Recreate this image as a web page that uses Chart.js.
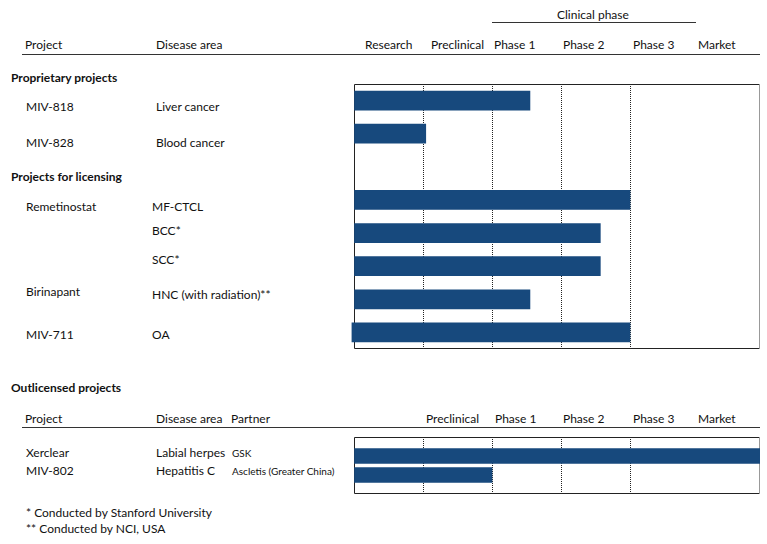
<!DOCTYPE html>
<html>
<head>
<meta charset="utf-8">
<script src="https://cdn.jsdelivr.net/npm/chart.js@4.4.1/dist/chart.umd.min.js"></script>
<style>
  body { margin: 0; background: #fff; font-family: Lato, "Open Sans", sans-serif; font-size: 12px; color: #111; }
  #page { position: relative; width: 767px; height: 544px; overflow: hidden; }
  .t { position: absolute; white-space: nowrap; line-height: 14px; }
  .b { font-weight: bold; }
  .s { font-size: 10px; }
  .rule { position: absolute; height: 1px; background: #333; }
  .box { position: absolute; }
</style>
</head>
<body>
<div id="page">
  <div class="box" style="left:350px;top:80px;width:414px;height:274px"><canvas id="chart1"></canvas></div>
  <div class="box" style="left:350px;top:433px;width:414px;height:66px"><canvas id="chart2"></canvas></div>
</div>
<script>
// phases (columns)
var phases = ["Research", "Preclinical", "Phase 1", "Phase 2", "Phase 3", "Market"];

// proprietary projects
var propProjects = ["MIV-818", "MIV-828"];
var propAreas = ["Liver cancer", "Blood cancer"];
var propStart = [0, 0];
var propEnd = [2.55, 1.04];

// projects for licensing
var licProjects = ["Remetinostat", "", "", "Birinapant", "MIV-711"];
var licAreas = ["MF-CTCL", "BCC*", "SCC*", "HNC (with radiation)**", "OA"];
var licStart = [0, 0, 0, 0, -0.03];
var licEnd = [4, 3.57, 3.57, 2.55, 4];

// outlicensed projects
var outProjects = ["Xerclear", "MIV-802"];
var outAreas = ["Labial herpes", "Hepatitis C"];
var outPartners = ["GSK", "Ascletis (Greater China)"];
var outStart = [0, 0];
var outEnd = [6, 2];

var footnotes = ["* Conducted by Stanford University", "** Conducted by NCI, USA"];

var barColor = "#17497d";
var page = document.getElementById("page");

function addText(str, x, cy, cls) {
    var d = document.createElement("div");
    d.className = "t" + (cls ? " " + cls : "");
    d.textContent = str;
    d.style.left = x + "px";
    d.style.top = (cy - 7) + "px";
    page.appendChild(d);
}
function addRule(x1, x2, y) {
    var d = document.createElement("div");
    d.className = "rule";
    d.style.left = x1 + "px";
    d.style.width = (x2 - x1) + "px";
    d.style.top = y + "px";
    page.appendChild(d);
}

// header
addText("Clinical phase", 557, 15);
addRule(492, 696, 22);
addText("Project", 25, 45);
addText("Disease area", 156, 45);
var headLeft = [365, 431, 494, 563, 633, 698];
phases.forEach(function(p, i) { addText(p, headLeft[i], 45); });
addRule(22, 760, 54);

addText("Proprietary projects", 11, 78, "b");
var propY = [107, 143];
propProjects.forEach(function(p, i) {
    addText(p, 26, propY[i]);
    addText(propAreas[i], 156, propY[i]);
});

addText("Projects for licensing", 11, 177, "b");
var licY = [207, 231, 260, 295, 335];
licProjects.forEach(function(p, i) {
    if (p) addText(p, 26, licY[i] - (i === 3 ? 3 : 0));
    addText(licAreas[i], 152, licY[i]);
});

addText("Outlicensed projects", 11, 388, "b");
addText("Project", 25, 419);
addText("Disease area", 156, 419);
addText("Partner", 231, 419);
var outHeadLeft = [null, 426, 495, 563, 633, 698];
phases.forEach(function(p, i) { if (i > 0) addText(p, outHeadLeft[i], 419); });
addRule(22, 760, 427);
var outY = [453, 471];
outProjects.forEach(function(p, i) {
    addText(p, 26, outY[i]);
    addText(outAreas[i], 156, outY[i]);
    addText(outPartners[i], 232, outY[i], "s");
});
addText(footnotes[0], 26, 513);
addText(footnotes[1], 26, 529);

// frame around plot area
var boxBorder = {
    id: "boxBorder",
    beforeDatasetsDraw: function(chart) {
        var a = chart.chartArea, c = chart.ctx;
        c.save();
        c.lineWidth = 1;
        c.strokeStyle = "#222";
        c.beginPath();
        c.moveTo(a.right, a.top + 0.5);
        c.lineTo(a.left + 0.5, a.top + 0.5);
        c.lineTo(a.left + 0.5, a.bottom - 0.5);
        c.lineTo(a.right, a.bottom - 0.5);
        c.stroke();
        c.strokeStyle = "#999";
        c.beginPath();
        c.moveTo(a.right - 0.5, a.top);
        c.lineTo(a.right - 0.5, a.bottom);
        c.stroke();
        c.restore();
    }
};

function makeOptions(pad, yScale) {
    return {
        indexAxis: "y",
        responsive: true,
        maintainAspectRatio: false,
        animation: false,
        layout: { padding: pad },
        plugins: { legend: { display: false }, tooltip: { enabled: false } },
        scales: {
            x: {
                type: "linear",
                min: 0,
                max: 406 / 69,
                ticks: { display: false, stepSize: 1 },
                grid: {
                    drawTicks: false,
                    color: function(ctx) {
                        var v = ctx.tick.value;
                        return (v > 0 && Math.abs(v - Math.round(v)) < 1e-6) ? "#222" : "rgba(0,0,0,0)";
                    }
                },
                border: { display: false, dash: [1, 1] }
            },
            y: yScale
        }
    };
}

function floating(start, end) {
    return start.map(function(s, i) { return end[i] === null ? null : [s, end[i]]; });
}

var topLabels = propProjects.concat([""], licAreas);
var topData = floating(propStart, propEnd).concat([null], floating(licStart, licEnd));

new Chart(document.getElementById("chart1"), {
    type: "bar",
    data: {
        labels: topLabels,
        datasets: [{
            data: topData,
            backgroundColor: barColor,
            barThickness: 19,
            borderSkipped: false,
            clip: { left: 4, top: 0, right: 0, bottom: 0 }
        }]
    },
    options: makeOptions({ left: 4, top: 4, right: 4, bottom: 5 }, { display: false }),
    plugins: [boxBorder]
});

// bottom table: blank rows at both ends, no offset, so the two bars sit close together
new Chart(document.getElementById("chart2"), {
    type: "bar",
    data: {
        labels: [" "].concat(outProjects, ["  "]),
        datasets: [{
            data: [null].concat(floating(outStart, outEnd), [null]),
            backgroundColor: barColor,
            barThickness: 15,
            borderSkipped: false,
            clip: { left: 4, top: 0, right: 0, bottom: 0 }
        }]
    },
    options: makeOptions({ left: 4, top: 4, right: 4, bottom: 5 }, { display: false, offset: false }),
    plugins: [boxBorder]
});
</script>
</body>
</html>
